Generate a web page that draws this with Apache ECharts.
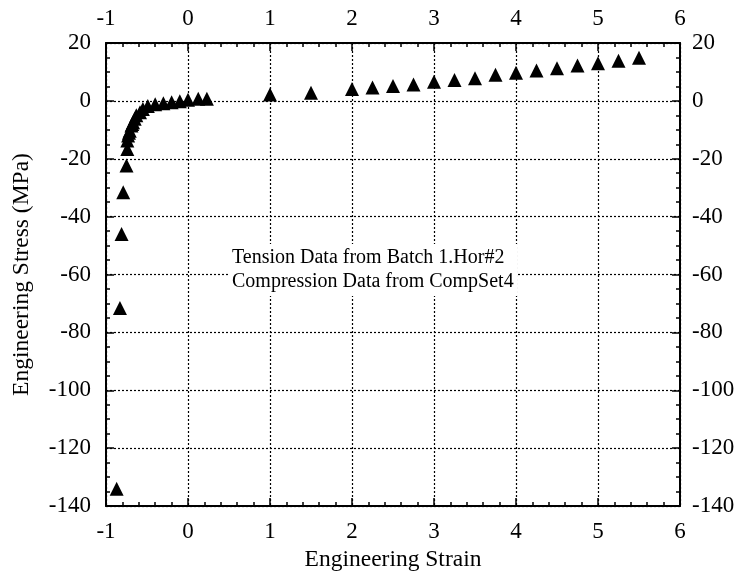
<!DOCTYPE html>
<html><head><meta charset="utf-8">
<script src="https://cdn.jsdelivr.net/npm/echarts@6/dist/echarts.min.js"></script>
<style>html,body{margin:0;padding:0;background:#fff}#c{width:741px;height:582px}</style>
</head><body><div id="c"></div>
<script>
var compStrain = [-0.87,-0.83,-0.81,-0.79,-0.75,-0.74,-0.74,-0.73,-0.72,-0.71,-0.69,-0.68,-0.67,-0.65,-0.63,-0.585,-0.55,-0.49,-0.40,-0.30,-0.20,-0.10,0.0,0.125,0.23];
var compStress = [-134,-71.6,-46,-31.6,-22.3,-16.6,-13.7,-12,-11,-10.3,-8.5,-8,-7.4,-6.2,-5,-3.9,-2.8,-1.8,-1.2,-0.8,-0.5,-0.1,0.4,0.7,0.7];
var tensStrain = [1,1.5,2,2.25,2.5,2.75,3,3.25,3.5,3.75,4,4.25,4.5,4.75,5,5.25,5.5];
var tensStress = [2.2,2.8,4.1,4.6,5.1,5.7,6.6,7.2,7.8,9.0,9.7,10.5,11.3,12.2,13.0,13.9,14.9];
var xTicks = [-1,0,1,2,3,4,5,6];
var yTicks = [20,0,-20,-40,-60,-80,-100,-120,-140];
var xName = 'Engineering Strain';
var yName = 'Engineering Stress (MPa)';
var note = ['Tension Data from Batch 1.Hor#2','Compression Data from CompSet4'];

var FONT = 'Liberation Serif';
function xAx(pos, grid){
  return {type:'value', position:pos, min:xTicks[0], max:xTicks[xTicks.length-1], interval:1,
    axisLine:{show:true,onZero:false,lineStyle:{color:'#000',width:2}},
    axisTick:{show:true,inside:true,length:8,lineStyle:{color:'#000',width:1.5}},
    minorTick:{show:true,splitNumber:5,length:4,lineStyle:{color:'#000',width:1.5}},
    splitLine:{show:grid,lineStyle:{color:'#000',type:[2,2],width:1.2}},
    axisLabel:{color:'#000',fontFamily:FONT,fontSize:23,margin:pos==='bottom'?14:13},
    name: pos==='bottom'?xName:'', nameLocation:'middle', nameGap:39,
    nameTextStyle:{color:'#000',fontFamily:FONT,fontSize:23.5}};
}
function yAx(pos, grid){
  return {type:'value', position:pos, min:yTicks[yTicks.length-1], max:yTicks[0], interval:20,
    axisLine:{show:true,onZero:false,lineStyle:{color:'#000',width:2}},
    axisTick:{show:true,inside:true,length:8,lineStyle:{color:'#000',width:1.5}},
    minorTick:{show:true,splitNumber:4,length:4,lineStyle:{color:'#000',width:1.5}},
    splitLine:{show:grid,lineStyle:{color:'#000',type:[2,2],width:1.2}},
    axisLabel:{color:'#000',fontFamily:FONT,fontSize:23,margin:pos==='left'?15:12},
    name: pos==='left'?yName:'', nameLocation:'middle', nameGap:72,
    nameTextStyle:{color:'#000',fontFamily:FONT,fontSize:23.5}};
}
function pts(xs, ys){ return xs.map(function(x,i){return [x, ys[i]];}); }
var chart = echarts.init(document.getElementById('c'));
chart.setOption({
  backgroundColor:'#fff',
  animation:false,
  grid:{left:106,right:61,top:43,bottom:76},
  xAxis:[xAx('bottom',true), xAx('top',false)],
  yAxis:[yAx('left',true), yAx('right',false)],
  series:[
    {type:'scatter',symbol:'triangle',symbolSize:14,itemStyle:{color:'#000',opacity:1},data:pts(compStrain,compStress),z:5},
    {type:'scatter',symbol:'triangle',symbolSize:14,itemStyle:{color:'#000',opacity:1},data:pts(tensStrain,tensStress),z:5}
  ],
  graphic:[{type:'text',left:228,top:244,z:10,
    style:{text:note.join('\n'),fontFamily:FONT,fontSize:20,lineHeight:24,fill:'#000',align:'center',
      backgroundColor:'#fff',padding:[2,4]}}]
});
</script></body></html>
